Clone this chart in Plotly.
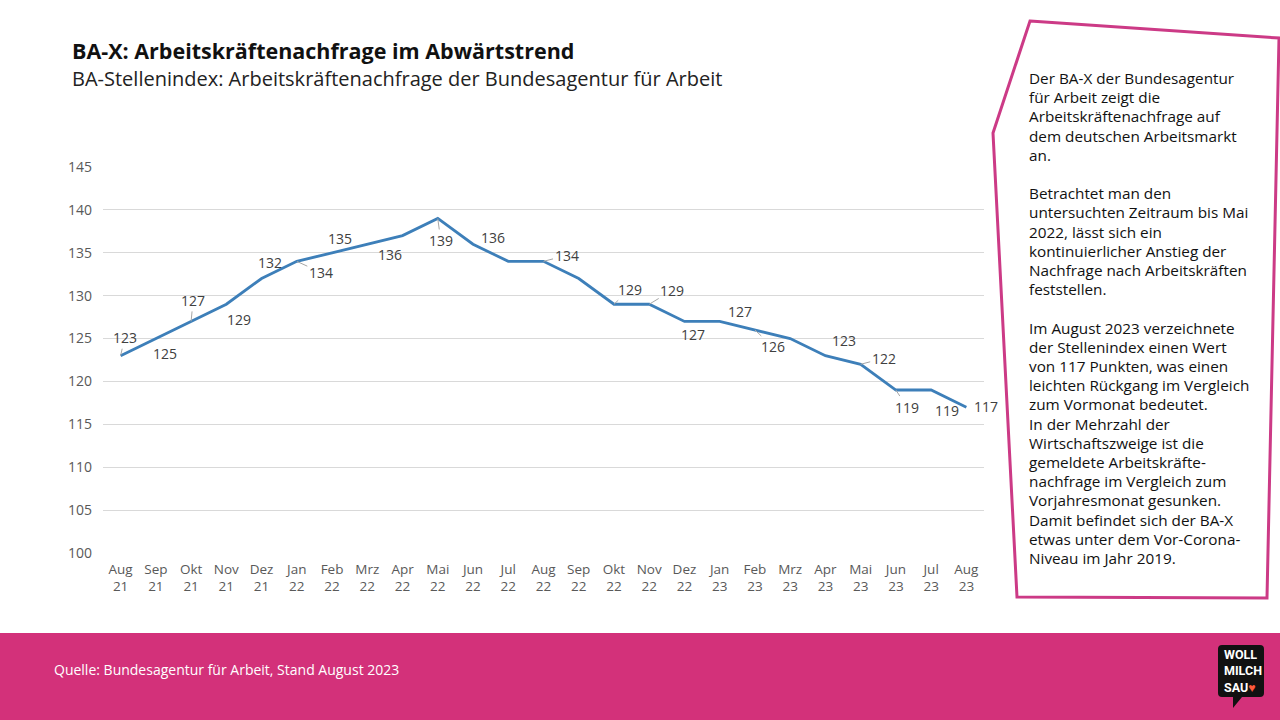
import plotly.graph_objects as go

W, H = 1280, 720

months = ["Aug<br>21", "Sep<br>21", "Okt<br>21", "Nov<br>21", "Dez<br>21",
          "Jan<br>22", "Feb<br>22", "Mrz<br>22", "Apr<br>22", "Mai<br>22", "Jun<br>22", "Jul<br>22",
          "Aug<br>22", "Sep<br>22", "Okt<br>22", "Nov<br>22", "Dez<br>22",
          "Jan<br>23", "Feb<br>23", "Mrz<br>23", "Apr<br>23", "Mai<br>23", "Jun<br>23", "Jul<br>23",
          "Aug<br>23"]
values = [123, 125, 127, 129, 132, 134, 135, 136, 137, 139, 136, 134,
          134, 132, 129, 129, 127, 127, 126, 125, 123, 122, 119, 119, 117]
# which points carry a data label (as in the source)
show_label = [1, 1, 1, 1, 1, 1, 1, 1, 0, 1, 1, 0,
              1, 0, 1, 1, 1, 1, 1, 0, 1, 1, 1, 1, 1]
# label offsets in pixels (dx, dy; dy positive = down) and leader line flag
label_dx = [4, 9, 2, 13, 8, 24, 8, 23, 0, 3, 20, 0,
            23, 0, 16, 23, 9, 20, 18, 0, 19, 23, 11, 16, 20]
label_dy = [-18, 15, -21, 15, -16, 11, -14, 10, 0, 22, -7, 0,
            -6, 0, -15, -14, 13, -10, 17, 0, -15, -6, 17, 20, -1]
leader = [1, 0, 1, 0, 0, 1, 0, 0, 0, 1, 0, 0,
          1, 0, 1, 1, 0, 0, 1, 0, 0, 1, 1, 0, 0]

y_ticks = [100, 105, 110, 115, 120, 125, 130, 135, 140, 145]

title = "BA-X: Arbeitskräftenachfrage im Abwärtstrend"
subtitle = "BA-Stellenindex: Arbeitskräftenachfrage der Bundesagentur für Arbeit"
source = "Quelle: Bundesagentur für Arbeit, Stand August 2023"
side_text = [
    "Der BA-X der Bundesagentur",
    "für Arbeit zeigt die",
    "Arbeitskräftenachfrage auf",
    "dem deutschen Arbeitsmarkt",
    "an.",
    "",
    "Betrachtet man den",
    "untersuchten Zeitraum bis Mai",
    "2022, lässt sich ein",
    "kontinuierlicher Anstieg der",
    "Nachfrage nach Arbeitskräften",
    "feststellen.",
    "",
    "Im August 2023 verzeichnete",
    "der Stellenindex einen Wert",
    "von 117 Punkten, was einen",
    "leichten Rückgang im Vergleich",
    "zum Vormonat bedeutet.",
    "In der Mehrzahl der",
    "Wirtschaftszweige ist die",
    "gemeldete Arbeitskräfte-",
    "nachfrage im Vergleich zum",
    "Vorjahresmonat gesunken.",
    "Damit befindet sich der BA-X",
    "etwas unter dem Vor-Corona-",
    "Niveau im Jahr 2019.",
]

FONT = "Open Sans"
PINK = "#d3317a"
BORDER = "#cc3a86"
LINE = "#3d7fb9"
TXT = "#404040"


def px(x):
    return x / W


def py(y):
    return 1 - y / H


fig = go.Figure()
fig.add_trace(go.Scatter(
    x=months, y=values, mode="lines",
    line=dict(color=LINE, width=2.8),
    hoverinfo="skip", showlegend=False, cliponaxis=False,
))

annotations = []
for i, (m, v) in enumerate(zip(months, values)):
    if not show_label[i]:
        continue
    annotations.append(dict(
        x=m, y=v, xref="x", yref="y", text=str(v),
        showarrow=True, arrowhead=0, arrowwidth=1,
        arrowcolor="#a6a6a6" if leader[i] else "rgba(0,0,0,0)",
        ax=label_dx[i], ay=label_dy[i], axref="pixel", ayref="pixel",
        font=dict(family=FONT, size=14, color=TXT), standoff=0,
    ))

# titles
annotations.append(dict(x=px(70), y=py(51), xref="paper", yref="paper", xanchor="left", yanchor="middle",
                        text="<b>" + title + "</b>", showarrow=False,
                        font=dict(family=FONT, size=21.5, color="#111111")))
annotations.append(dict(x=px(70), y=py(78), xref="paper", yref="paper", xanchor="left", yanchor="middle",
                        text=subtitle, showarrow=False,
                        font=dict(family=FONT, size=20, color="#222222")))
# side text, one annotation per line
for k, line in enumerate(side_text):
    if not line:
        continue
    annotations.append(dict(x=px(1027), y=py(78 + 19.2 * k), xref="paper", yref="paper",
                            xanchor="left", yanchor="middle", text=line, showarrow=False,
                            font=dict(family=FONT, size=15.3, color="#111111")))
# source
annotations.append(dict(x=px(52), y=py(669), xref="paper", yref="paper", xanchor="left", yanchor="middle",
                        text=source, showarrow=False,
                        font=dict(family=FONT, size=14, color="#ffffff")))
# logo text
annotations.append(dict(x=px(1222), y=py(671), xref="paper", yref="paper", xanchor="left", yanchor="middle",
                        text="<b>WOLL<br>MILCH<br>SAU<span style='color:#ff5a3c'>♥</span></b>", showarrow=False,
                        align="left", font=dict(family="Roboto", size=12.5, color="#ffffff")))

shapes = [
    # footer band
    dict(type="rect", xref="paper", yref="paper", x0=0, x1=1, y0=py(720), y1=py(633),
         fillcolor=PINK, line=dict(width=0), layer="below"),
    # side panel polygon
    dict(type="path", xref="paper", yref="paper",
         path=f"M {px(1030)} {py(21)} L {px(1279)} {py(38)} L {px(1267)} {py(598)} "
              f"L {px(1017)} {py(597)} L {px(993)} {py(133)} Z",
         line=dict(color=BORDER, width=3), fillcolor="rgba(0,0,0,0)"),
    # logo bubble
    dict(type="path", xref="paper", yref="paper",
         path=f"M {px(1222)} {py(645)} L {px(1260)} {py(645)} Q {px(1264)} {py(645)} {px(1264)} {py(649)} "
              f"L {px(1264)} {py(693)} Q {px(1264)} {py(697)} {px(1260)} {py(697)} L {px(1242)} {py(697)} "
              f"L {px(1233)} {py(708)} L {px(1233)} {py(697)} L {px(1222)} {py(697)} "
              f"Q {px(1218)} {py(697)} {px(1218)} {py(693)} L {px(1218)} {py(649)} "
              f"Q {px(1218)} {py(645)} {px(1222)} {py(645)} Z",
         line=dict(width=0), fillcolor="#111111"),
]

fig.update_layout(
    width=W, height=H, autosize=False,
    margin=dict(l=0, r=0, t=0, b=0, pad=0, autoexpand=False),
    paper_bgcolor="white", plot_bgcolor="white",
    font=dict(family=FONT, color="#595959"),
    xaxis=dict(domain=[px(103), px(984)], type="category", range=[-0.5, len(months) - 0.5],
               showgrid=False, zeroline=False, ticklabelstandoff=6,
               showline=False, ticks="", tickfont=dict(family=FONT, size=13.5, color="#595959"),
               automargin=False, fixedrange=True),
    yaxis=dict(domain=[py(553), py(167)], range=[100, 145], tickvals=y_ticks,
               showgrid=True, gridcolor="#d9d9d9", gridwidth=1, zeroline=False,
               showline=False, ticks="", ticklabelstandoff=10, automargin=False,
               tickfont=dict(family=FONT, size=14, color="#595959"), fixedrange=True),
    annotations=annotations,
    shapes=shapes,
)

post = """
document.documentElement.style.margin='0';
document.documentElement.style.overflow='hidden';
document.body.style.margin='0';
document.body.style.overflow='hidden';
"""

fig.write_html("out.html", config={"displayModeBar": False}, post_script=post)
